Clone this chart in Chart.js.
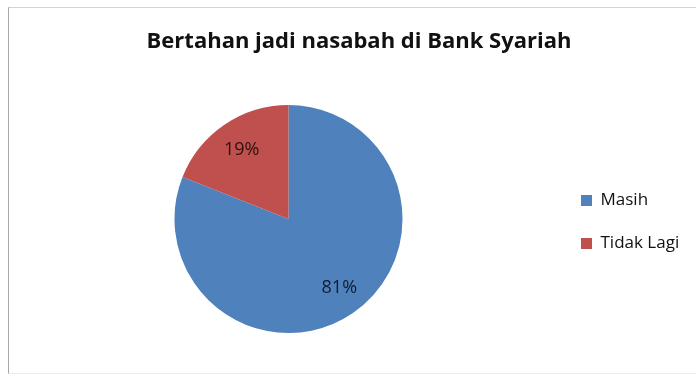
<!DOCTYPE html>
<html>
<head>
<meta charset="utf-8">
<script src="https://cdn.jsdelivr.net/npm/chart.js@4/dist/chart.umd.min.js"></script>
<style>
  html, body { margin: 0; padding: 0; background: #ffffff; overflow: hidden; }
  #wrap { position: relative; width: 696px; height: 375px; }
  #frame {
    position: absolute; left: 8px; top: 7px; right: -2px; bottom: 1px;
    border-left: 1px solid #a8a8a8; border-top: 1px solid #d4d4d4; border-bottom: 1px solid #ececec;
    pointer-events: none;
  }
  #title {
    position: absolute; left: 0; width: 718px; top: 28px;
    text-align: center; font: bold 22px "Open Sans", Lato, sans-serif; line-height: 1;
    color: #111111; white-space: nowrap;
  }
  canvas { position: absolute; left: 0; top: 0; }
</style>
</head>
<body>
<div id="wrap">
  <canvas id="chart" width="696" height="375"></canvas>
  <div id="frame"></div>
  <div id="title">Bertahan jadi nasabah di Bank Syariah</div>
</div>
<script>
// Share of customers who stayed with an Islamic bank
const categories = ['Masih', 'Tidak Lagi'];
const shares = [81, 19];
const sliceColors = ['#4F81BD', '#C0504D'];

const fontFamily = '"Open Sans"';
const legendFontSize = 17;
const legendBox = 11;
const legendPad = 26;

// Measure the longest legend label so the legend box lands where we want it
const probe = document.createElement('canvas').getContext('2d');
probe.font = legendFontSize + 'px ' + fontFamily;
const maxLabelWidth = Math.max(...categories.map(c => probe.measureText(c).width));
const legendWidth = legendPad + legendBox + legendFontSize / 2 + maxLabelWidth + 10;
const legendLeft = 555;
const padLeft = 22;
const padRight = 696 - legendLeft - legendWidth;

// Percentage labels drawn inside each slice
const sliceLabels = {
  id: 'sliceLabels',
  afterDatasetsDraw(chart) {
    const { ctx } = chart;
    const meta = chart.getDatasetMeta(0);
    const data = chart.data.datasets[0].data;
    const total = data.reduce((a, b) => a + b, 0);
    ctx.save();
    ctx.font = '18px ' + fontFamily;
    ctx.fillStyle = 'rgba(0,0,0,0.78)';
    ctx.textAlign = 'center';
    ctx.textBaseline = 'middle';
    meta.data.forEach((arc, i) => {
      const p = arc.getProps(['x', 'y', 'startAngle', 'endAngle', 'outerRadius'], true);
      const mid = (p.startAngle + p.endAngle) / 2;
      const r = p.outerRadius * 0.73;
      const label = Math.round(data[i] / total * 100) + '%';
      ctx.fillText(label, p.x + Math.cos(mid) * r + (i === 0 ? 4 : 0), p.y + Math.sin(mid) * r);
    });
    ctx.restore();
  }
};

new Chart(document.getElementById('chart'), {
  type: 'pie',
  data: {
    labels: categories,
    datasets: [{
      data: shares,
      backgroundColor: sliceColors,
      borderWidth: 0
    }]
  },
  options: {
    responsive: false,
    animation: false,
    layout: { padding: { left: padLeft, right: padRight, top: 105, bottom: 42 } },
    plugins: {
      title: { display: false },
      tooltip: { enabled: false },
      legend: {
        position: 'right',
        title: { display: true, text: '', padding: 0, font: { size: 6, lineHeight: 1 } },
        labels: {
          boxWidth: legendBox,
          boxHeight: legendBox,
          padding: legendPad,
          color: '#111111',
          font: { family: fontFamily, size: legendFontSize }
        }
      }
    }
  },
  plugins: [sliceLabels]
});
</script>
</body>
</html>
